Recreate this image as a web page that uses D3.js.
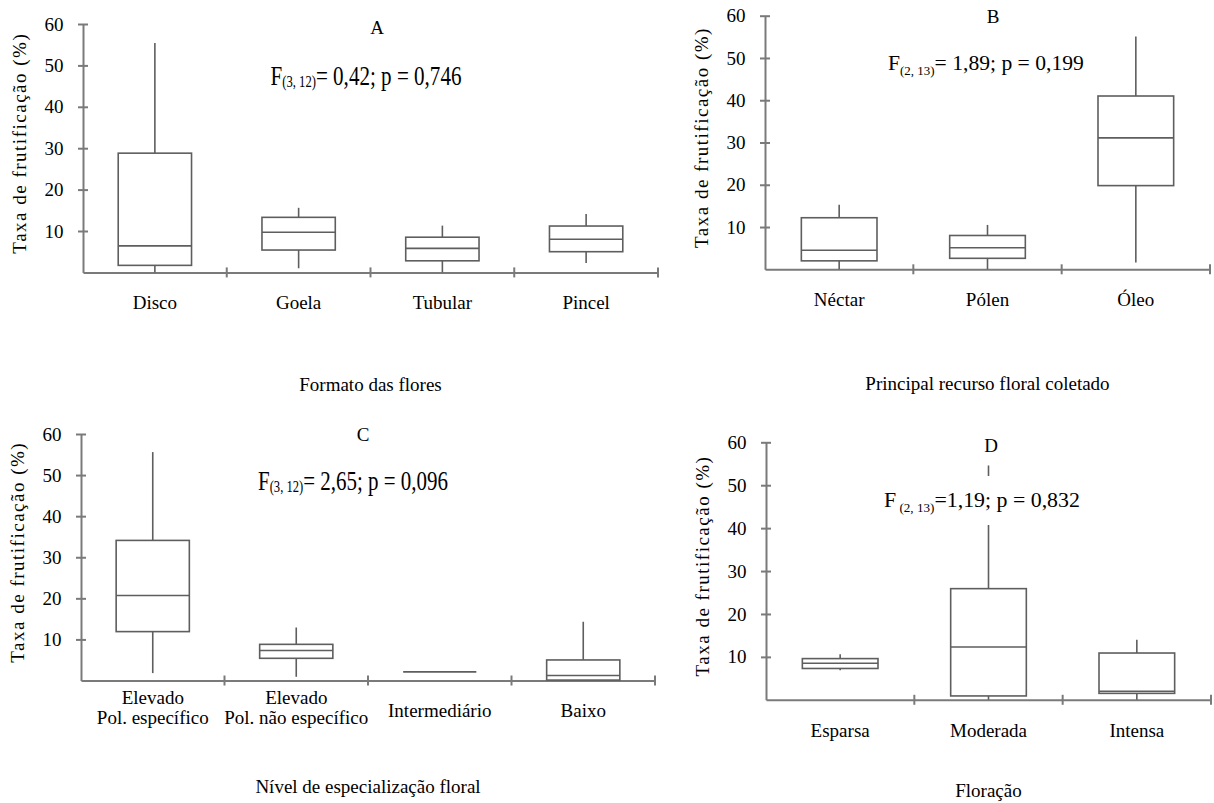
<!DOCTYPE html>
<html>
<head>
<meta charset="utf-8">
<script src="https://cdn.jsdelivr.net/npm/d3@7"></script>
<style>
  body { margin: 0; background: #fff; }
  svg text { font-family: "Liberation Serif", "Times New Roman", serif !important; fill: #000; }
</style>
</head>
<body>
<svg id="chart" width="1214" height="803" font-family="Liberation Serif"></svg>
<script>
const yTicks = [10, 20, 30, 40, 50, 60];

// caixas: [mínimo, q1, mediana, q3, máximo]
const catsA = ['Disco', 'Goela', 'Tubular', 'Pincel'];
const boxesA = [[0, 1.7, 6.4, 28.8, 55.4], [1.0, 5.4, 9.7, 13.3, 15.6], [0, 2.8, 5.8, 8.5, 11.3], [2.3, 5.0, 8.0, 11.2, 14.1]];
const catsB = ['Néctar', 'Pólen', 'Óleo'];
const boxesB = [[0, 2.0, 4.5, 12.2, 15.3], [0, 2.6, 5.1, 8.0, 10.5], [1.6, 19.8, 31.1, 41.0, 55.1]];
const catsC = ['Elevado|Pol. específico', 'Elevado|Pol. não específico', 'Intermediário', 'Baixo'];
const boxesC = [[1.8, 11.9, 20.7, 34.1, 55.6], [0.9, 5.4, 7.3, 8.8, 12.9], [2.1, 2.1, 2.1, 2.1, 2.3], [0, 0.1, 1.2, 5.0, 14.3]];
const catsD = ['Esparsa', 'Moderada', 'Intensa'];
const boxesD = [[6.9, 7.3, 8.5, 9.6, 10.6], [0, 0.9, 12.3, 25.9, 54.6], [0, 1.5, 2.0, 10.9, 14.0]];

const letters = ['A', 'B', 'C', 'D'];
const xTitles = ['Formato das flores', 'Principal recurso floral coletado', 'Nível de especialização floral', 'Floração'];
const fSub = ['(3, 12)', '(2, 13)', '(3, 12)', ' (2, 13)'];
const fRest = ['= 0,42; p = 0,746', '= 1,89; p = 0,199', '= 2,65; p = 0,096', '=1,19; p = 0,832'];
const yTitle = 'Taxa de frutificação (%)';

// posição de cada painel
const layout = [
  { x0: 83,  x1: 658,  top: 24,    base: 272.4, lx: 377, ly: 33.5, fx: 366, fy: 85,  fs: 27, fw: 191, sub: 2, ty: 391 },
  { x0: 765, x1: 1210, top: 15.7,  base: 269.3, lx: 993, ly: 23,   fx: 986, fy: 70,  fs: 22, fw: 196, sub: 5, ty: 390 },
  { x0: 81,  x1: 655,  top: 434,   base: 680.5, lx: 363, ly: 441,  fx: 353, fy: 490, fs: 27, fw: 190, sub: 2, ty: 793 },
  { x0: 766, x1: 1211, top: 442.3, base: 699.8, lx: 991, ly: 452,  fx: 982, fy: 507, fs: 22, fw: 196, sub: 5, ty: 797 }
];

const fontFamily = 'Liberation Serif';
const axisColor = '#7a7a7a';
const boxColor = '#5e5e5e';
const svg = d3.select('#chart');

function drawPanel(cats, boxes, L, i) {
  const g = svg.append('g').attr('font-family', fontFamily);
  const x = d3.scaleBand().domain(cats).range([L.x0, L.x1]);
  const y = d3.scaleLinear().domain([0, 60]).range([L.base, L.top]);
  const bw = x.bandwidth() * 0.51;

  // eixo y
  const yAxis = g.append('g')
    .attr('transform', `translate(${L.x0},0)`)
    .call(d3.axisLeft(y).tickValues(yTicks).tickSize(5).tickPadding(14.5).tickSizeOuter(0));
  yAxis.selectAll('.tick line').attr('x1', -5).attr('x2', 5);

  // eixo x
  const xAxis = g.append('g')
    .attr('transform', `translate(0,${L.base})`)
    .call(d3.axisBottom(x).tickSize(0).tickPadding(23.5).tickSizeOuter(0));
  xAxis.selectAll('line.edge')
    .data(cats)
    .join('line')
    .attr('class', 'edge')
    .attr('x1', d => x(d) + x.bandwidth())
    .attr('x2', d => x(d) + x.bandwidth())
    .attr('y1', -5)
    .attr('y2', 5);

  [yAxis, xAxis].forEach(a => {
    a.attr('font-family', fontFamily).attr('font-size', 19);
    a.selectAll('.domain, line').attr('stroke', axisColor).attr('stroke-width', 2);
    a.selectAll('text').attr('fill', '#000').attr('font-family', fontFamily);
  });

  // rótulos em duas linhas
  xAxis.selectAll('.tick text').each(function (d) {
    const parts = d.split('|');
    if (parts.length < 2) return;
    const t = d3.select(this).text(null);
    parts.forEach((p, k) => t.append('tspan').attr('x', 0).attr('dy', k ? '1.05em' : 0).text(p));
  });

  // caixas
  const b = g.append('g')
    .attr('fill', 'none')
    .attr('stroke', boxColor)
    .attr('stroke-width', 1.6)
    .selectAll('g')
    .data(boxes)
    .join('g')
    .attr('transform', (d, k) => `translate(${x(cats[k]) + x.bandwidth() / 2},0)`);
  b.append('line').attr('y1', d => y(d[0])).attr('y2', d => y(d[1]));
  b.append('line').attr('y1', d => y(d[3])).attr('y2', d => y(d[4]));
  b.append('rect')
    .attr('x', -bw / 2)
    .attr('width', bw)
    .attr('y', d => y(d[3]))
    .attr('height', d => y(d[1]) - y(d[3]));
  b.append('line')
    .attr('x1', -bw / 2)
    .attr('x2', bw / 2)
    .attr('y1', d => y(d[2]))
    .attr('y2', d => y(d[2]));

  // título do eixo y
  g.append('text')
    .attr('transform', `translate(${L.x0 - 57},${(L.top + L.base) / 2 - 5}) rotate(-90)`)
    .attr('text-anchor', 'middle')
    .attr('font-size', 19)
    .attr('letter-spacing', 1.5)
    .text(yTitle);

  // título do eixo x
  g.append('text')
    .attr('x', (L.x0 + L.x1) / 2)
    .attr('y', L.ty)
    .attr('text-anchor', 'middle')
    .attr('font-size', 19)
    .text(xTitles[i]);

  // letra do painel
  g.append('text')
    .attr('x', L.lx)
    .attr('y', L.ly)
    .attr('text-anchor', 'middle')
    .attr('font-size', 19)
    .text(letters[i]);

  // estatística F
  g.append('rect')
    .attr('x', L.fx - L.fw / 2 - 4)
    .attr('y', L.fy - 31)
    .attr('width', L.fw + 8)
    .attr('height', 49)
    .attr('fill', '#fff');
  const ft = g.append('text').attr('font-size', L.fs);
  ft.append('tspan').text('F');
  ft.append('tspan').attr('font-size', L.fs * 0.6).attr('dy', L.sub).text(fSub[i]);
  ft.append('tspan').attr('dy', -L.sub).text(fRest[i]);
  const k = L.fw / ft.node().getComputedTextLength();
  ft.attr('transform', `translate(${L.fx - L.fw / 2},${L.fy}) scale(${k},1)`);
}

drawPanel(catsA, boxesA, layout[0], 0);
drawPanel(catsB, boxesB, layout[1], 1);
drawPanel(catsC, boxesC, layout[2], 2);
drawPanel(catsD, boxesD, layout[3], 3);
</script>
</body>
</html>
